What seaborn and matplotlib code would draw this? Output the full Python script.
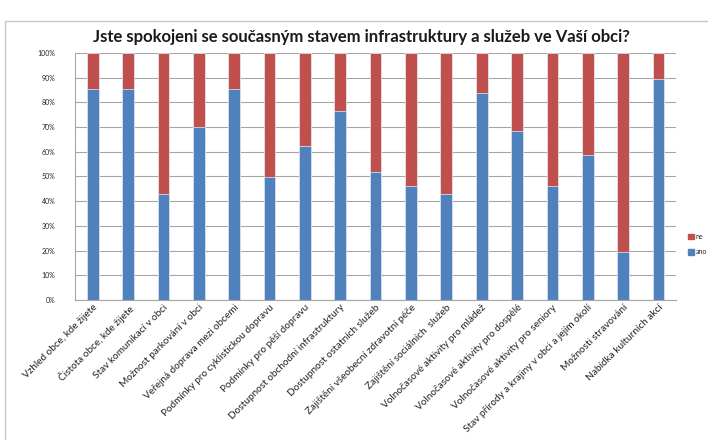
import numpy as np
import pandas as pd
import matplotlib
matplotlib.use("Agg")
import matplotlib.pyplot as plt
import seaborn as sns
from matplotlib.patches import Rectangle, Patch
from matplotlib.ticker import PercentFormatter

# --- data ---
categories = [
    "Vzhled obce, kde žijete",
    "Čistota obce, kde žijete",
    "Stav komunikací v obci",
    "Možnost parkování v obci",
    "Veřejná doprava mezi obcemi",
    "Podmínky pro cyklistickou dopravu",
    "Podmínky pro pěší dopravu",
    "Dostupnost obchodní infrastruktury",
    "Dostupnost ostatních služeb",
    "Zajištění všeobecní zdravotní péče",
    "Zajištění sociálních  služeb",
    "Volnočasové aktivity pro mládež",
    "Volnočasové aktivity pro dospělé",
    "Volnočasové aktivity pro seniory",
    "Stav přírody a krajiny v obci a jejím okolí",
    "Možnosti stravování",
    "Nabídka kulturních akcí",
]
ano = [85.5, 85.5, 42.8, 69.8, 85.5, 49.7, 62.3, 76.6, 51.8,
       46.2, 42.8, 83.9, 68.4, 46.2, 58.7, 19.5, 89.3]
ne = [100 - v for v in ano]

BLUE = "#4F81BD"
RED = "#C0504D"

df = pd.DataFrame({"kategorie": categories, "ano": ano, "ne": ne})
df["celkem"] = df["ano"] + df["ne"]

sns.set_style("white")
plt.rcParams["font.family"] = ["Lato", "DejaVu Sans"]

fig = plt.figure(figsize=(7.08, 4.4), dpi=100)
ax = fig.add_axes([0.106, 0.318, 0.849, 0.562])

# stacked: full height in red, blue share on top of it
sns.barplot(data=df, x="kategorie", y="celkem", color=RED, width=0.33,
            edgecolor="#e6eef7", linewidth=0.5, saturation=1, ax=ax)
sns.barplot(data=df, x="kategorie", y="ano", color=BLUE, width=0.33,
            edgecolor="#e6eef7", linewidth=0.5, saturation=1, ax=ax)

ax.set_ylim(0, 100)
ax.set_xlim(-0.5, len(categories) - 0.5)
ax.set_yticks(np.arange(0, 101, 10))
ax.yaxis.set_major_formatter(PercentFormatter(decimals=0))
ax.tick_params(axis="y", labelsize=5, length=0, pad=14)
ax.tick_params(axis="x", length=0, pad=2)
ax.set_xticks(range(len(categories)))
ax.set_xticklabels(categories, rotation=45, ha="right",
                   rotation_mode="anchor", fontsize=7.2, color="#222222")
ax.set_xlabel("")
ax.set_ylabel("")
ax.grid(axis="y", color="#a6a6a6", linewidth=0.8)
ax.set_axisbelow(True)
for s in ["top", "right"]:
    ax.spines[s].set_visible(False)
ax.spines["left"].set_color("#a6a6a6")
ax.spines["bottom"].set_color("#a6a6a6")

# legend
handles = [Patch(color=RED, label="ne"), Patch(color=BLUE, label="ano")]
fig.legend(handles=handles, loc="center left", bbox_to_anchor=(0.963, 0.445),
           frameon=False, fontsize=5, handlelength=0.8, handleheight=0.8,
           handletextpad=0.3, labelspacing=1.2)

fig.suptitle("Jste spokojeni se současným stavem infrastruktury a služeb ve Vaší obci?",
             x=0.51, y=0.935, fontsize=12, fontweight="bold", color="#1a1a1a")

# chart area border
fig.patches.append(Rectangle((0.007, -0.01), 1.0, 0.962, transform=fig.transFigure,
                             fill=False, edgecolor="#c8c8c8", linewidth=1))

plt.savefig("out.png", dpi=100)
